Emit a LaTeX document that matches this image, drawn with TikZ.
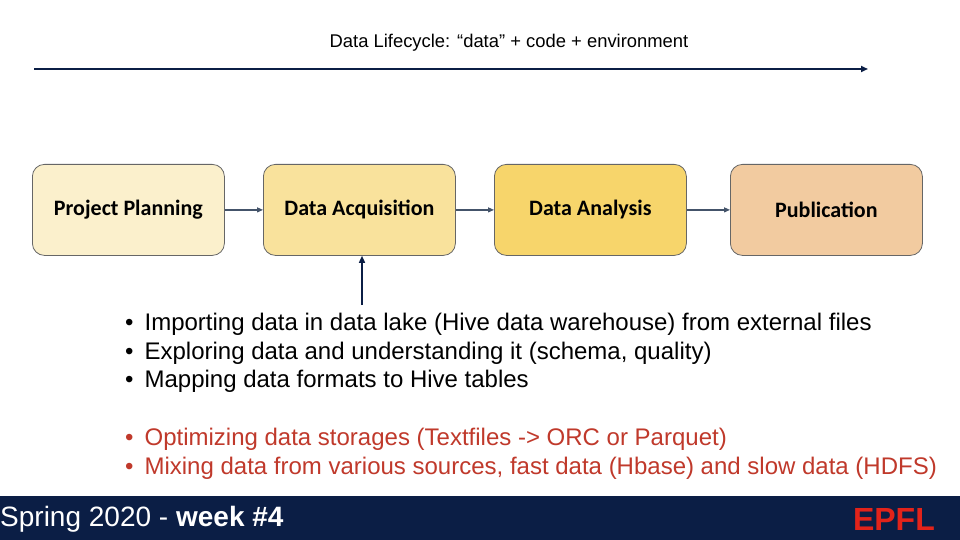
\documentclass[tikz,border=0pt]{standalone}
\usepackage{fontspec}
\setmainfont{Liberation Sans}
\newfontfamily\boxfont{Carlito}
\usetikzlibrary{arrows.meta}
\definecolor{navy}{HTML}{0B1E45}
\definecolor{arr}{HTML}{44546A}
\definecolor{redtxt}{HTML}{C0392B}
\definecolor{epfl}{HTML}{E2231A}
\definecolor{c1}{HTML}{FBF0CC}
\definecolor{c2}{HTML}{F9E29C}
\definecolor{c3}{HTML}{F7D56B}
\definecolor{c4}{HTML}{F2CBA0}
\begin{document}
\begin{tikzpicture}[x=1pt,y=-1pt,
  stage/.style={draw=gray!80!black,line width=0.8pt,rounded corners=12pt,minimum width=192pt,minimum height=91pt,font=\boxfont\bfseries\fontsize{22}{26}\selectfont,anchor=north west,inner sep=0pt},
  link/.style={draw=arr,line width=1.2pt,-{Triangle[length=6pt,width=5pt]}},
  bul/.style={anchor=west,font=\fontsize{24}{28}\selectfont,inner sep=0pt}]
\useasboundingbox (0,0) rectangle (960,540);
\fill[white] (0,0) rectangle (960,540);
\node[font=\fontsize{18.4}{22}\selectfont] (title) at (509,43) {Data Lifecycle: “data” + code + environment};
\coordinate (ts) at (34,69); \coordinate (te) at (868,69);
\draw[draw=navy,line width=2pt,-{Triangle[length=7pt,width=6pt]}] (ts) -- (te);
\node[stage,fill=c1] (pp) at (32,164) {Project Planning};
\node[stage,fill=c2] (da) at (263,164) {Data Acquisition};
\node[stage,fill=c3] (an) at (494,164) {Data Analysis};
\node[stage,fill=c4] (pub) at (730,164) {Publication};
\draw[link] (pp) -- (da);
\draw[link] (da) -- (an);
\draw[link] (an) -- (pub);
\coordinate (up) at (362,305);
\draw[draw=navy,line width=1.5pt,-{Triangle[length=7pt,width=6pt]}] (up) -- (up|-da.south);
\node[bul] (b1) at (125,324) {•\hspace{11pt}Importing data in data lake (Hive data warehouse) from external files};
\node[bul] (b2) at (125,353) {•\hspace{11pt}Exploring data and understanding it (schema, quality)};
\node[bul] (b3) at (125,381) {•\hspace{11pt}Mapping data formats to Hive tables};
\node[bul,text=redtxt] (b4) at (125,439) {•\hspace{11pt}Optimizing data storages (Textfiles -> ORC or Parquet)};
\node[bul,text=redtxt] (b5) at (125,468) {•\hspace{11pt}Mixing data from various sources, fast data (Hbase) and slow data (HDFS)};
\fill[navy] (0,496) rectangle (960,540);
\node[anchor=west,inner sep=0pt,text=white,font=\fontsize{28}{32}\selectfont] (foot) at (0,519) {Spring 2020 - \textbf{week \#4}};
\node[anchor=east,inner sep=0pt,text=epfl,font=\bfseries\fontsize{32}{36}\selectfont] (logo) at (935,519) {EPFL};
\end{tikzpicture}
\end{document}
